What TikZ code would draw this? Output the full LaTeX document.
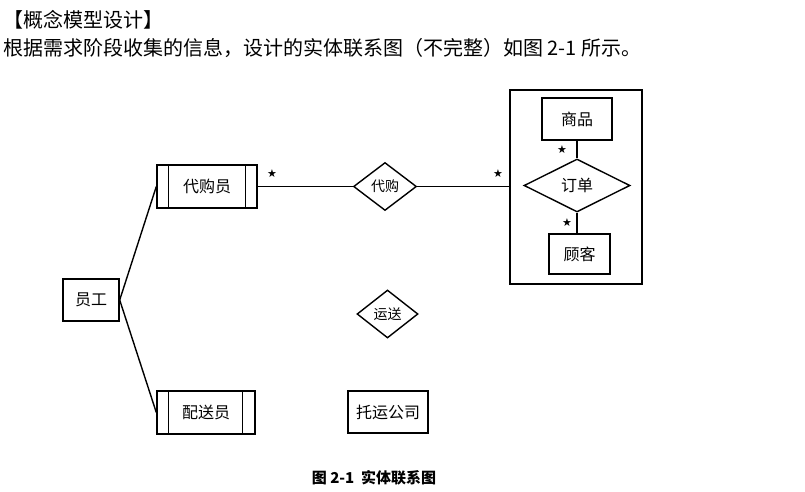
\documentclass[tikz,border=0pt]{standalone}
\usepackage{fontspec}
\setmainfont{Noto Sans CJK SC}
\newfontfamily\symfont{DejaVu Sans}
\usetikzlibrary{shapes.geometric}
\tikzset{
  ent/.style={draw, line width=1.4pt, rectangle, inner sep=0pt, font=\fontsize{16}{16}\selectfont},
  rel/.style={draw, line width=1.4pt, diamond, inner sep=0pt, font=\fontsize{14}{14}\selectfont},
  conn/.style={line width=1.4pt},
  mult/.style={inner sep=0pt, font=\symfont\fontsize{11}{11}\selectfont},
  heading/.style={anchor=west, inner sep=0pt, font=\fontsize{20}{20}\selectfont}
}
\begin{document}
\begin{tikzpicture}[x=1pt,y=-1pt]
\useasboundingbox (0,0) rectangle (805,492);
% texts
\node[heading] (t1) at (3,20) {【概念模型设计】};
\node[heading] (t2) at (3,48) {根据需求阶段收集的信息，设计的实体联系图（不完整）如图 2-1 所示。};
% entities
\node[ent, minimum width=56pt, minimum height=42pt] (yg) at (91,300) {员工};
\node[ent, minimum width=100pt, minimum height=43pt] (dgy) at (207,186.5) {代购员};
\node[ent, minimum width=98pt, minimum height=43pt] (psy) at (206,412.5) {配送员};
\draw[conn] ([xshift=12pt]dgy.north west) -- ([xshift=12pt]dgy.south west);
\draw[conn] ([xshift=-12pt]dgy.north east) -- ([xshift=-12pt]dgy.south east);
\draw[conn] ([xshift=12pt]psy.north west) -- ([xshift=12pt]psy.south west);
\draw[conn] ([xshift=-13pt]psy.north east) -- ([xshift=-13pt]psy.south east);
\node[rel, minimum width=63pt, minimum height=48pt] (dg) at (385,186.5) {代购};
\node[ent, minimum width=132pt, minimum height=194pt] (agg) at (576,187) {};
\node[ent, minimum width=70pt, minimum height=42pt] (sp) at (577,119) {商品};
\node[rel, minimum width=106pt, minimum height=53pt, font=\fontsize{16}{16}\selectfont] (dd) at (577,185.5) {订单};
\node[ent, minimum width=61pt, minimum height=40pt] (gk) at (579.5,254) {顾客};
\node[rel, minimum width=61pt, minimum height=48pt] (ys) at (387.5,314) {运送};
\node[ent, minimum width=80pt, minimum height=42pt] (tygs) at (388,412) {托运公司};
% connectors
\draw[conn] (yg.east) -- (dgy.west);
\draw[conn] (yg.east) -- (psy.west);
\draw[conn] (dgy.east) -- (dg.west);
\draw[conn] (dg.east) -- (dg.east -| agg.west);
\draw[conn] (sp.south) -- (dd.north);
\draw[conn] (dd.south) -- (dd.south |- gk.north);
% multiplicities
\node[mult] (m1) at (272,174) {★};
\node[mult] (m2) at (498,174) {★};
\node[mult] (m3) at (562,150) {★};
\node[mult] (m4) at (567,223) {★};
% caption
\node[inner sep=0pt, font=\fontsize{15}{15}\selectfont\bfseries] (cap) at (374,478) {图 2-1\ \ 实体联系图};
\end{tikzpicture}
\end{document}
